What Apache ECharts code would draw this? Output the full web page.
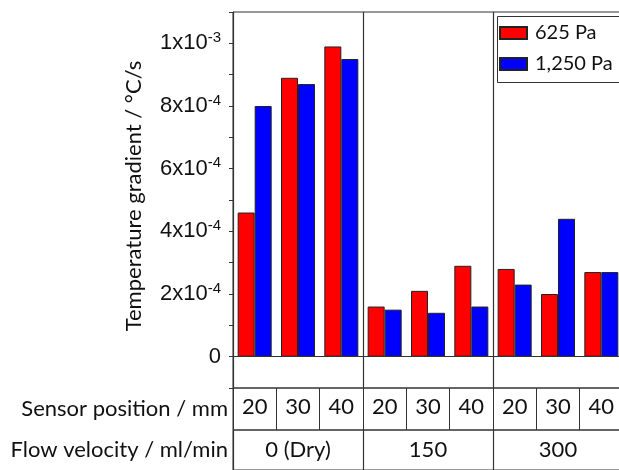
<!DOCTYPE html>
<html>
<head>
<meta charset="utf-8">
<script src="https://cdn.jsdelivr.net/npm/echarts@6/dist/echarts.min.js"></script>
<style>
  html, body {margin: 0; padding: 0; background: #fff; overflow: hidden;}
  /* the original figure is cut off on the right, so the chart is wider than the page */
  #chart {width: 700px; height: 470px;}
</style>
</head>
<body>
<div id="chart"></div>
<script>
// sensor positions, repeated per flow velocity group
const positions = ['20', '30', '40', '20', '30', '40', '20', '30', '40'];
const flows = ['0 (Dry)', '150', '300'];
const pa625 = [4.6e-4, 8.9e-4, 9.9e-4, 1.6e-4, 2.1e-4, 2.9e-4, 2.8e-4, 2.0e-4, 2.7e-4];
const pa1250 = [8.0e-4, 8.7e-4, 9.5e-4, 1.5e-4, 1.4e-4, 1.6e-4, 2.3e-4, 4.4e-4, 2.7e-4];
const majorTicks = [0, 2e-4, 4e-4, 6e-4, 8e-4, 1e-3];
const rowNames = ['Sensor position / mm', 'Flow velocity / ml/min'];

const lineCol = '#333';
const sans = 'Lato';
const txt = '#111';

let chart = echarts.init(document.getElementById('chart'));

// 1x10^-3 style labels, only on the major ticks
function sciLabel(v) {
  let n = Math.round(v * 1e4);
  if (n < 0 || n % 2 !== 0) return '';
  if (n === 0) return '{b|0}';
  if (n === 10) return '{b|1x10}{s|-3}';
  return '{b|' + n + 'x10}{s|-4}';
}

const border = {show: true, borderColor: lineCol, borderWidth: 1};
const hidden = {show: false};

let option = {
  animation: false,
  // plot, sensor position row, flow velocity row
  grid: [
    Object.assign({left: 233, top: 12, right: 77, height: 376}, border),
    Object.assign({left: 233, top: 388, right: 77, height: 42}, border),
    Object.assign({left: 233, top: 430, right: 77, height: 46}, border)
  ],
  // legend frame runs off the right edge like in the figure
  graphic: [{
    type: 'rect', left: 495, top: 14, z: 10, silent: true,
    shape: {width: 200, height: 66},
    style: {fill: 'none', stroke: lineCol, lineWidth: 1}
  }],
  legend: {
    orient: 'vertical',
    left: 495, top: 14,
    padding: [7, 4, 4, 4],
    itemGap: 7,
    itemWidth: 27, itemHeight: 12,
    icon: 'rect',
    textStyle: {fontFamily: sans, fontSize: 20, color: txt, padding: [0, 0, 0, 3], lineHeight: 24}
  },
  xAxis: [
    {
      gridIndex: 0, type: 'category', data: positions,
      axisLine: hidden, axisTick: hidden, axisLabel: hidden
    },
    {
      gridIndex: 0, type: 'category', data: flows,
      axisLine: hidden, axisTick: hidden, axisLabel: hidden,
      splitLine: {show: true, interval: 0, lineStyle: {color: lineCol, width: 1.2}}
    },
    {
      gridIndex: 1, type: 'category', data: positions, position: 'top',
      axisLine: hidden,
      axisTick: {show: true, inside: true, interval: 0, length: 42, lineStyle: {color: lineCol}},
      axisLabel: {inside: true, margin: 8, interval: 0, fontFamily: sans, fontSize: 22, color: txt}
    },
    {
      gridIndex: 2, type: 'category', data: flows, position: 'top',
      axisLine: hidden,
      axisTick: {show: true, inside: true, interval: 0, length: 46, lineStyle: {color: lineCol, width: 1.2}},
      axisLabel: {inside: true, margin: 9, interval: 0, fontFamily: sans, fontSize: 22, color: txt}
    }
  ],
  yAxis: [
    {
      gridIndex: 0, type: 'value',
      min: -1e-4, max: 1.1e-3, interval: 1e-4,
      name: 'Temperature gradient / °C/s',
      nameLocation: 'middle',
      nameGap: 88,
      nameTextStyle: {fontFamily: sans, fontSize: 22, color: txt, padding: [0, 0, 0, 8]},
      axisLine: {show: true, lineStyle: {color: lineCol, width: 1}},
      axisTick: {show: true, length: 4, lineStyle: {color: lineCol}},
      splitLine: hidden,
      axisLabel: {
        margin: 12,
        formatter: sciLabel,
        rich: {
          b: {fontFamily: 'Liberation Sans', fontSize: 22, color: txt},
          s: {fontFamily: 'Liberation Sans', fontSize: 15, color: txt, padding: [0, 0, 11, 0]}
        }
      }
    },
    {
      gridIndex: 0, type: 'value',
      min: -1e-4, max: 1.1e-3, interval: 1e-4,
      axisLine: hidden,
      axisTick: {show: true, length: 8, customValues: majorTicks, lineStyle: {color: lineCol}},
      axisLabel: hidden,
      splitLine: hidden
    },
    {
      gridIndex: 1, type: 'category', data: [rowNames[0]],
      axisLine: hidden, axisTick: hidden, splitLine: hidden,
      axisLabel: {margin: 5, fontFamily: sans, fontSize: 22, color: txt}
    },
    {
      gridIndex: 2, type: 'category', data: [rowNames[1]],
      axisLine: hidden, axisTick: hidden, splitLine: hidden,
      axisLabel: {margin: 5, fontFamily: sans, fontSize: 22, color: txt}
    }
  ],
  series: [
    {
      name: '625 Pa',
      type: 'bar',
      data: pa625,
      barWidth: 17,
      barGap: '0%',
      itemStyle: {color: '#ff0000', borderColor: '#222', borderWidth: 1},
      markLine: {
        silent: true, symbol: 'none', label: {show: false},
        lineStyle: {color: lineCol, type: 'solid', width: 1},
        data: [{yAxis: 0}]
      }
    },
    {
      name: '1,250 Pa',
      type: 'bar',
      data: pa1250,
      barWidth: 17,
      barGap: '0%',
      itemStyle: {color: '#0000ff', borderColor: '#222', borderWidth: 1}
    }
  ]
};
chart.setOption(option);
</script>
</body>
</html>
